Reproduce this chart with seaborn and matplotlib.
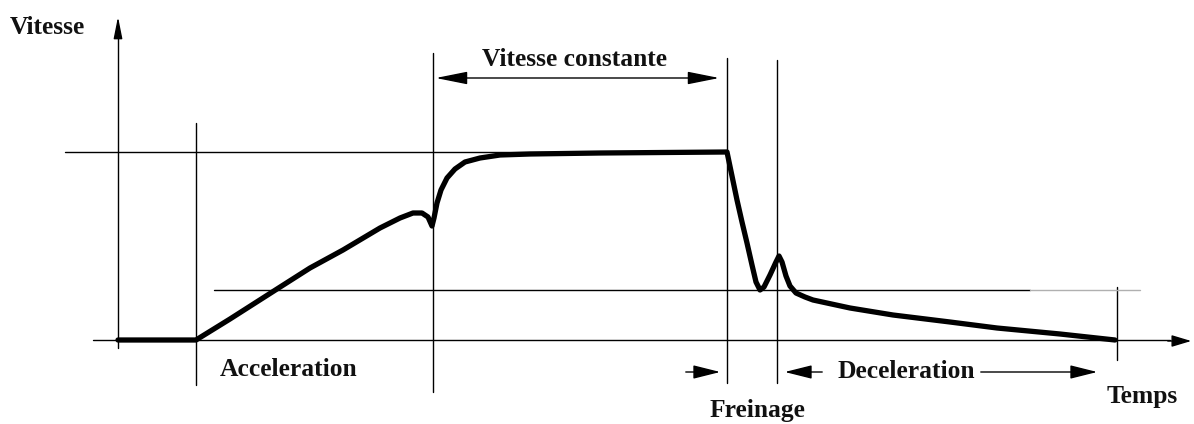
import matplotlib
matplotlib.use("Agg")
import matplotlib.pyplot as plt
import seaborn as sns
import pandas as pd

# Speed profile of a braking cycle (time and speed in drawing units)
time_pts = [118, 196, 230, 277, 310, 343, 380, 400, 413, 422, 428, 432, 434, 437, 441,
            447, 455, 465, 480, 500, 530, 600, 727, 732, 737, 742, 747, 752, 756, 760,
            764, 770, 776, 779, 782, 786, 790, 796, 805, 813, 850, 893, 950, 997, 1060, 1115]
speed_pts = [0, 0, 21, 51, 72, 90, 112, 122, 127, 127, 123, 114, 122, 137, 150,
             162, 171, 178, 182, 185, 186, 187, 188, 164, 140, 118, 97, 75, 58, 50,
             53, 65, 78, 84, 78, 64, 54, 47, 43, 40, 32, 25, 18, 12, 6, 0]

# Phase boundaries (time) and their vertical extents (speed bottom, top)
phase_times = [196, 433, 727, 777, 1117]
phase_bottoms = [-45, -52, -43, -43, -20]
phase_tops = [217, 287, 282, 280, 53]

# Reference speed levels: (speed, start, end, colour)
levels = [(188, 65, 727, "black"), (50, 214, 1030, "black"), (50, 1030, 1140, "#b0b0b0")]

axis_label_y = "Vitesse"
axis_label_x = "Temps"
phase_labels = ["Acceleration", "Vitesse constante", "Freinage", "Deceleration"]

sns.set_theme(style="white")
plt.rcParams["font.family"] = ["Liberation Serif", "DejaVu Serif"]

fig = plt.figure(figsize=(11.94, 4.24), dpi=100)
ax = fig.add_axes([0, 0, 1, 1])
ax.set_xlim(0, 1194)
ax.set_ylim(-84, 340)
ax.axis("off")

thin = dict(color="black", lw=1.0)

# Axes with arrow heads
ax.plot([118, 118], [-8, 310], **thin)
ax.annotate("", xy=(118, 326), xytext=(118, 300),
            arrowprops=dict(arrowstyle="-|>,head_length=1.1,head_width=0.22",
                            mutation_scale=12, color="black", lw=1.0))
ax.plot([93, 1170], [0, 0], **thin)
ax.annotate("", xy=(1194, -1), xytext=(1165, -1),
            arrowprops=dict(arrowstyle="-|>,head_length=1.0,head_width=0.3",
                            mutation_scale=12, color="black", lw=1.0))

# Phase boundaries
for t, b, tp in zip(phase_times, phase_bottoms, phase_tops):
    ax.plot([t, t], [b, tp], **thin)

# Reference levels
for v, x0, x1, c in levels:
    ax.plot([x0, x1], [v, v], color=c, lw=1.0)

# Speed curve
df = pd.DataFrame({"t": time_pts, "v": speed_pts})
sns.lineplot(data=df, x="t", y="v", sort=False, estimator=None, color="black",
             lw=3.8, ax=ax, solid_capstyle="round", solid_joinstyle="round")
ax.set_xlabel("")
ax.set_ylabel("")

fs = 18.4
bold = dict(fontsize=fs, fontweight="bold", color="#111111")
ax.text(10, 313, axis_label_y, ha="left", va="center", **bold)
ax.text(1107, -57, axis_label_x, ha="left", va="center", **bold)
ax.text(220, -29, phase_labels[0], ha="left", va="center", **bold)
ax.text(575, 281, phase_labels[1], ha="center", va="center", **bold)
ax.text(757, -71, phase_labels[2], ha="center", va="center", **bold)
ax.text(837, -32, phase_labels[3], ha="left", va="center", **bold)

arrow_style = dict(mutation_scale=14, color="black", lw=1.0)
# Constant speed span
ax.annotate("", xy=(722, 262), xytext=(433, 262),
            arrowprops=dict(arrowstyle="<|-|>,head_length=1.4,head_width=0.28", **arrow_style))
# Braking marker
ax.annotate("", xy=(723, -32), xytext=(683, -32),
            arrowprops=dict(arrowstyle="-|>,head_length=1.2,head_width=0.3", **arrow_style))
# Deceleration span
ax.annotate("", xy=(782, -32), xytext=(825, -32),
            arrowprops=dict(arrowstyle="-|>,head_length=1.2,head_width=0.3", **arrow_style))
ax.annotate("", xy=(1100, -32), xytext=(978, -32),
            arrowprops=dict(arrowstyle="-|>,head_length=1.2,head_width=0.3", **arrow_style))

fig.savefig("out.png", dpi=100, facecolor="white")
